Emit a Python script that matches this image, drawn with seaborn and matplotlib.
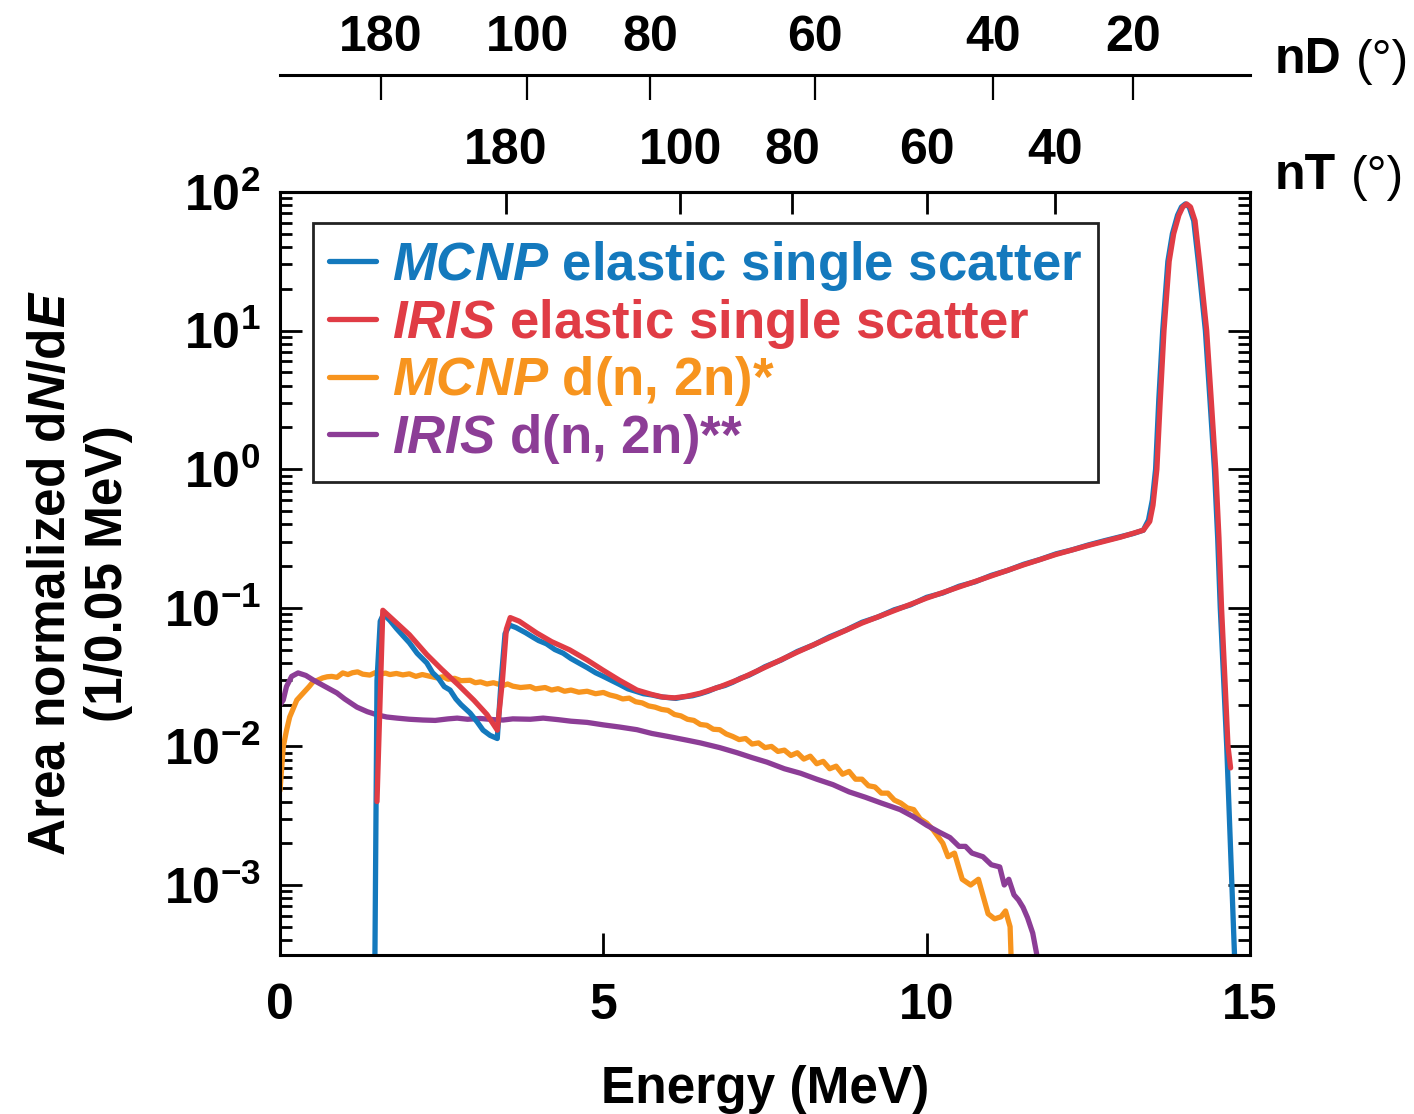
import matplotlib
matplotlib.use("Agg")
import numpy as np
import pandas as pd
import matplotlib.pyplot as plt
import seaborn as sns
from matplotlib.lines import Line2D
from matplotlib.ticker import LogLocator, NullFormatter, FixedLocator, FixedFormatter

# ---------------- data ----------------
# MCNP elastic single scatter
mcnp_el_E = [1.46, 1.50, 1.55, 1.60, 1.70, 1.80, 1.90, 2.00, 2.12, 2.27, 2.36, 2.45, 2.54,
             2.63, 2.72, 2.80, 2.94, 3.05, 3.14, 3.25, 3.36, 3.42, 3.48, 3.55, 3.65,
             3.80, 3.92, 4.00, 4.12, 4.25, 4.38, 4.50, 4.62, 4.75, 4.88, 5.00, 5.12,
             5.25, 5.38, 5.50, 5.62, 5.75, 5.88, 6.00, 6.12, 6.25, 6.38, 6.50, 6.62,
             6.75, 6.88, 7.00, 7.12, 7.25, 7.38, 7.50, 7.75, 8.00, 8.25, 8.50, 8.75,
             9.00, 9.25, 9.50, 9.75, 10.00, 10.25, 10.50, 10.75, 11.00, 11.25, 11.50,
             11.75, 12.00, 12.25, 12.50, 12.75, 13.00, 13.20, 13.35, 13.43, 13.49,
             13.54, 13.59, 13.65, 13.73, 13.80, 13.88, 13.94, 14.00, 14.06, 14.13,
             14.20, 14.31, 14.38, 14.45, 14.50, 14.54, 14.59, 14.64, 14.72, 14.80]
mcnp_el_y = [1e-4, 0.030, 0.080, 0.090, 0.081, 0.071, 0.063, 0.056, 0.047, 0.040, 0.034,
             0.031, 0.027, 0.0255, 0.022, 0.020, 0.0174, 0.0150, 0.0131, 0.0120, 0.0114,
             0.030, 0.065, 0.075, 0.072, 0.066, 0.061, 0.058, 0.055, 0.050, 0.047,
             0.043, 0.040, 0.037, 0.034, 0.032, 0.030, 0.028, 0.026, 0.025, 0.0240,
             0.0235, 0.0228, 0.0225, 0.0222, 0.0228, 0.0232, 0.0240, 0.0250, 0.0265,
             0.0275, 0.0290, 0.0310, 0.0326, 0.0350, 0.0376, 0.0420, 0.0484, 0.0540,
             0.0618, 0.0690, 0.0786, 0.0860, 0.0968, 0.1050, 0.1190, 0.1280, 0.1430,
             0.1540, 0.1715, 0.1860, 0.2060, 0.2230, 0.2450, 0.2620, 0.2840, 0.3050,
             0.3260, 0.3440, 0.3630, 0.4300, 0.6000, 1.00, 3.2, 10.0, 31.6, 50.0, 68.0,
             78.0, 82.0, 78.0, 62.0, 31.6, 10.0, 3.2, 1.0, 0.32, 0.10, 0.032, 0.010,
             0.0010, 1e-4]

# IRIS elastic single scatter
iris_el_E = [1.50, 1.59, 1.80, 2.00, 2.27, 2.50, 2.75, 3.00, 3.20, 3.36, 3.44, 3.50, 3.56,
             3.70, 3.97, 4.20, 4.48, 4.75, 4.99, 5.25, 5.52, 5.75, 5.92, 6.10, 6.29,
             6.50, 6.80, 7.10, 7.50, 8.00, 8.50, 9.00, 9.50, 10.00, 10.50, 11.00, 11.50,
             12.00, 12.50, 13.00, 13.35, 13.45, 13.50, 13.56, 13.61, 13.67, 13.75,
             13.82, 13.90, 13.96, 14.02, 14.08, 14.15, 14.22, 14.33, 14.40, 14.47,
             14.52, 14.56, 14.61, 14.66, 14.70]
iris_el_y = [0.004, 0.096, 0.078, 0.064, 0.046, 0.036, 0.028, 0.0215, 0.0170, 0.0131,
             0.030, 0.070, 0.085, 0.080, 0.0658, 0.0570, 0.0497, 0.0420, 0.0356, 0.0300,
             0.0255, 0.0237, 0.0227, 0.0224, 0.0230, 0.0242, 0.0269, 0.0305, 0.0372,
             0.0479, 0.0610, 0.0776, 0.0955, 0.1175, 0.1413, 0.1698, 0.2042, 0.2427,
             0.2818, 0.3236, 0.3630, 0.4200, 0.5500, 1.00, 3.0, 10.0, 31.6, 50.0, 68.0,
             78.0, 82.0, 78.0, 62.0, 31.6, 10.0, 3.2, 1.0, 0.32, 0.10, 0.032, 0.010,
             0.0070]

# MCNP d(n, 2n)
mcnp_2n_E = [0.00, 0.05, 0.10, 0.15, 0.26, 0.36, 0.45, 0.51, 0.58, 0.66,
             0.73, 0.80, 0.88, 0.97, 1.05, 1.12, 1.20, 1.28, 1.39, 1.47,
             1.55, 1.63, 1.70, 1.80, 1.90, 2.00, 2.10, 2.20, 2.30, 2.43,
             2.52, 2.60, 2.70, 2.80, 2.94, 3.02, 3.10, 3.20, 3.30, 3.45,
             3.52, 3.60, 3.72, 3.87, 3.95, 4.10, 4.20, 4.30, 4.40, 4.50,
             4.62, 4.75, 4.88, 5.00, 5.10, 5.20, 5.30, 5.40, 5.50, 5.60,
             5.70, 5.80, 5.90, 6.00, 6.10, 6.20, 6.30, 6.40, 6.50, 6.60,
             6.70, 6.80, 6.90, 7.00, 7.10, 7.20, 7.30, 7.40, 7.50, 7.60,
             7.70, 7.80, 7.90, 8.00, 8.10, 8.20, 8.30, 8.40, 8.50, 8.60,
             8.70, 8.80, 8.90, 9.00, 9.10, 9.20, 9.30, 9.40, 9.50, 9.60,
             9.70, 9.80, 9.90, 10.00, 10.10, 10.25, 10.33, 10.43, 10.55, 10.68,
             10.80, 10.95, 11.05, 11.15, 11.22, 11.29, 11.34]
mcnp_2n_y = [0.0048, 0.0099, 0.0130, 0.0163, 0.0216, 0.0243, 0.0270, 0.0292, 0.0300, 0.0312,
             0.0318, 0.0320, 0.0315, 0.0339, 0.0330, 0.0340, 0.0345, 0.0332, 0.0327, 0.0340,
             0.0332, 0.0338, 0.0330, 0.0336, 0.0328, 0.0334, 0.0320, 0.0330, 0.0322, 0.0312,
             0.0318, 0.0305, 0.0310, 0.0298, 0.0300, 0.0288, 0.0292, 0.0282, 0.0288, 0.0275,
             0.0282, 0.0272, 0.0266, 0.0270, 0.0260, 0.0266, 0.0255, 0.0261, 0.0250, 0.0255,
             0.0246, 0.0250, 0.0240, 0.0245, 0.0235, 0.0229, 0.0220, 0.0223, 0.0210, 0.0206,
             0.0196, 0.0192, 0.0185, 0.0182, 0.0170, 0.0166, 0.0157, 0.0154, 0.0144, 0.0142,
             0.0133, 0.0132, 0.0123, 0.0118, 0.0112, 0.0114, 0.0104, 0.0106, 0.0098, 0.0100,
             0.0092, 0.0094, 0.0086, 0.0090, 0.0081, 0.0085, 0.0075, 0.0078, 0.0069, 0.0072,
             0.0063, 0.0066, 0.0058, 0.0058, 0.0052, 0.0051, 0.0046, 0.0046, 0.0041, 0.0039,
             0.0036, 0.0035, 0.0030, 0.0028, 0.0025, 0.0020, 0.0016, 0.0017, 0.0011, 0.0010,
             0.0011, 0.00062, 0.00057, 0.00059, 0.00065, 0.00050, 1e-4]

# IRIS d(n, 2n)
iris_2n_E = [0.00, 0.05, 0.10, 0.18, 0.28, 0.40, 0.51, 0.70, 0.88, 1.00, 1.19, 1.35, 1.50,
             1.65, 1.81, 2.00, 2.21, 2.40, 2.60, 2.74, 2.90, 3.10, 3.30, 3.45, 3.60,
             3.87, 4.07, 4.30, 4.50, 4.75, 5.00, 5.25, 5.52, 5.75, 6.00, 6.29, 6.50,
             6.80, 7.07, 7.30, 7.53, 7.80, 8.05, 8.30, 8.55, 8.80, 9.05, 9.30, 9.59,
             9.80, 10.00, 10.20, 10.36, 10.50, 10.60, 10.70, 10.87, 11.00, 11.13,
             11.20, 11.27, 11.35, 11.42, 11.49, 11.56, 11.64, 11.70, 11.73]
iris_2n_y = [0.0200, 0.0216, 0.0270, 0.0320, 0.0339, 0.0325, 0.0302, 0.0270, 0.0243,
             0.0220, 0.0192, 0.0178, 0.0169, 0.0163, 0.0160, 0.0157, 0.0155, 0.0154,
             0.0158, 0.0160, 0.0157, 0.0159, 0.0156, 0.0155, 0.0158, 0.0157, 0.0160,
             0.0156, 0.0152, 0.0149, 0.0143, 0.0138, 0.0132, 0.0124, 0.0118, 0.0111,
             0.0106, 0.0098, 0.0090, 0.0083, 0.0077, 0.0069, 0.0064, 0.0058, 0.0053,
             0.0047, 0.0043, 0.0039, 0.0035, 0.0031, 0.0027, 0.0024, 0.0022, 0.0019,
             0.0019, 0.0017, 0.0016, 0.0014, 0.00135, 0.0010, 0.0011, 0.00085, 0.00078,
             0.00069, 0.00058, 0.00045, 0.00032, 1e-4]

series_names = ["MCNP elastic single scatter", "IRIS elastic single scatter",
                "MCNP d(n, 2n)*", "IRIS d(n, 2n)**"]
series_labels = [r"$\mathbfit{MCNP}$ elastic single scatter",
                 r"$\mathbfit{IRIS}$ elastic single scatter",
                 r"$\mathbfit{MCNP}$ d(n, 2n)*",
                 r"$\mathbfit{IRIS}$ d(n, 2n)**"]
series_colors = ["#1479bd", "#e03c45", "#f7941e", "#8c3d96"]

# top scales: scattering angle of the neutron for n-D and n-T elastic scatter
nd_angle_labels = ["180", "100", "80", "60", "40", "20"]
nd_angle_energy = [1.56, 3.82, 5.72, 8.27, 11.03, 13.19]
nt_angle_labels = ["180", "100", "80", "60", "40"]
nt_angle_energy = [3.49, 6.19, 7.92, 10.00, 11.98]

x_ticks = [0, 5, 10, 15]
y_decades = [-3, -2, -1, 0, 1, 2]

# ---------------- style ----------------
sns.set_theme(style="ticks")
plt.rcParams["font.family"] = ["Liberation Sans", "DejaVu Sans"]
plt.rcParams["font.weight"] = "bold"
plt.rcParams["mathtext.fontset"] = "custom"
plt.rcParams["mathtext.rm"] = "Liberation Sans:bold"
plt.rcParams["mathtext.bf"] = "Liberation Sans:bold"
plt.rcParams["mathtext.it"] = "Liberation Sans:italic:bold"
plt.rcParams["mathtext.bfit"] = "Liberation Sans:italic:bold"
plt.rcParams["axes.unicode_minus"] = True
for key in ["text.color", "axes.labelcolor", "xtick.color", "ytick.color",
            "axes.edgecolor"]:
    plt.rcParams[key] = "black"

FS = 36
LW = 3.8
SPINE = 2.2

frames = [
    pd.DataFrame({"E": mcnp_el_E, "y": mcnp_el_y, "series": series_names[0]}),
    pd.DataFrame({"E": iris_el_E, "y": iris_el_y, "series": series_names[1]}),
    pd.DataFrame({"E": mcnp_2n_E, "y": mcnp_2n_y, "series": series_names[2]}),
    pd.DataFrame({"E": iris_2n_E, "y": iris_2n_y, "series": series_names[3]}),
]

fig = plt.figure(figsize=(14.14, 11.14), dpi=100)
W, H = 1414, 1114
ax = fig.add_axes([280 / W, 1 - 955 / H, 970 / W, 763 / H])

# d(n,2n) curves underneath, elastic curves on top
for idx in [2, 3, 0, 1]:
    sns.lineplot(data=frames[idx], x="E", y="y", ax=ax, color=series_colors[idx],
                 lw=LW, estimator=None, sort=False, legend=False)

ax.set_yscale("log")
ax.set_xlim(0, 15)
ax.set_ylim(10 ** -3.505, 100)

for s in ax.spines.values():
    s.set_visible(True)
    s.set_linewidth(SPINE)
    s.set_color("black")

ax.xaxis.set_major_locator(FixedLocator(x_ticks))
ax.xaxis.set_major_formatter(FixedFormatter([str(v) for v in x_ticks]))
ax.yaxis.set_major_locator(FixedLocator([10.0 ** d for d in y_decades]))
ax.yaxis.set_major_formatter(FixedFormatter([r"$\mathbf{10^{%d}}$" % d for d in y_decades]))
ax.yaxis.set_minor_locator(LogLocator(base=10, subs=np.arange(2, 10), numticks=20))
ax.yaxis.set_minor_formatter(NullFormatter())

ax.tick_params(axis="x", which="major", direction="in", length=16, width=2,
               labelsize=FS, pad=20, top=False, bottom=True)
ax.tick_params(axis="x", which="minor", bottom=False, top=False)
ax.tick_params(axis="y", which="major", direction="in", length=16, width=2,
               labelsize=FS, pad=14, left=True, right=True)
ax.tick_params(axis="y", which="minor", direction="in", length=8.5, width=2,
               left=True, right=True)
for lab in ax.get_xticklabels() + ax.get_yticklabels():
    lab.set_fontweight("bold")

ax.set_xlabel("Energy (MeV)", fontsize=FS + 1, fontweight="bold", labelpad=26)
ax.set_ylabel("Area normalized d$\\mathbfit{N}$/d$\\mathbfit{E}$\n(1/0.05 MeV)",
              fontsize=FS + 1, fontweight="bold", labelpad=22, linespacing=1.2)

# n-T angle scale on the top spine
ax_t = ax.twiny()
ax_t.set_xlim(0, 15)
ax_t.set_xticks(nt_angle_energy, nt_angle_labels)
for name, s in ax_t.spines.items():
    s.set_visible(name == "top")
    s.set_linewidth(SPINE)
ax_t.tick_params(axis="x", which="major", direction="in", length=16, width=2,
                 labelsize=FS, pad=13, top=True, bottom=False)
ax_t.tick_params(axis="x", which="minor", top=False, bottom=False)
for lab in ax_t.get_xticklabels():
    lab.set_fontweight("bold")

# n-D angle scale on a separate line above
ax_d = ax.twiny()
ax_d.set_xlim(0, 15)
ax_d.set_xticks(nd_angle_energy, nd_angle_labels)
for name, s in ax_d.spines.items():
    s.set_visible(name == "top")
ax_d.spines["top"].set_position(("outward", 84))
ax_d.spines["top"].set_linewidth(SPINE)
ax_d.tick_params(axis="x", which="major", direction="in", length=18, width=1.6,
                 labelsize=FS, pad=10, top=True, bottom=False)
ax_d.tick_params(axis="x", which="minor", top=False, bottom=False)
for lab in ax_d.get_xticklabels():
    lab.set_fontweight("bold")

fig.text(1275 / W, 1 - 60 / H, "nD", fontsize=FS, fontweight="bold", va="center", ha="left")
fig.text(1356 / W, 1 - 62 / H, "(°)", fontsize=FS, fontweight="normal", va="center", ha="left")
fig.text(1275 / W, 1 - 176 / H, "nT", fontsize=FS, fontweight="bold", va="center", ha="left")
fig.text(1351 / W, 1 - 178 / H, "(°)", fontsize=FS, fontweight="normal", va="center", ha="left")

# legend
handles = [Line2D([], [], color=c, lw=LW) for c in series_colors]
leg = ax.legend(handles, series_labels, loc="upper left",
                bbox_to_anchor=((313 - 280) / 970, (955 - 223) / 763),
                borderaxespad=0, frameon=True, fancybox=False, framealpha=1,
                edgecolor="#222222", prop={"size": FS + 2, "weight": "bold"},
                handlelength=0.9, handletextpad=0.3, labelspacing=0.07,
                borderpad=0.3)
leg.get_frame().set_linewidth(2)
for txt, c in zip(leg.get_texts(), series_colors):
    txt.set_color(c)

fig.savefig("out.png", dpi=100)
